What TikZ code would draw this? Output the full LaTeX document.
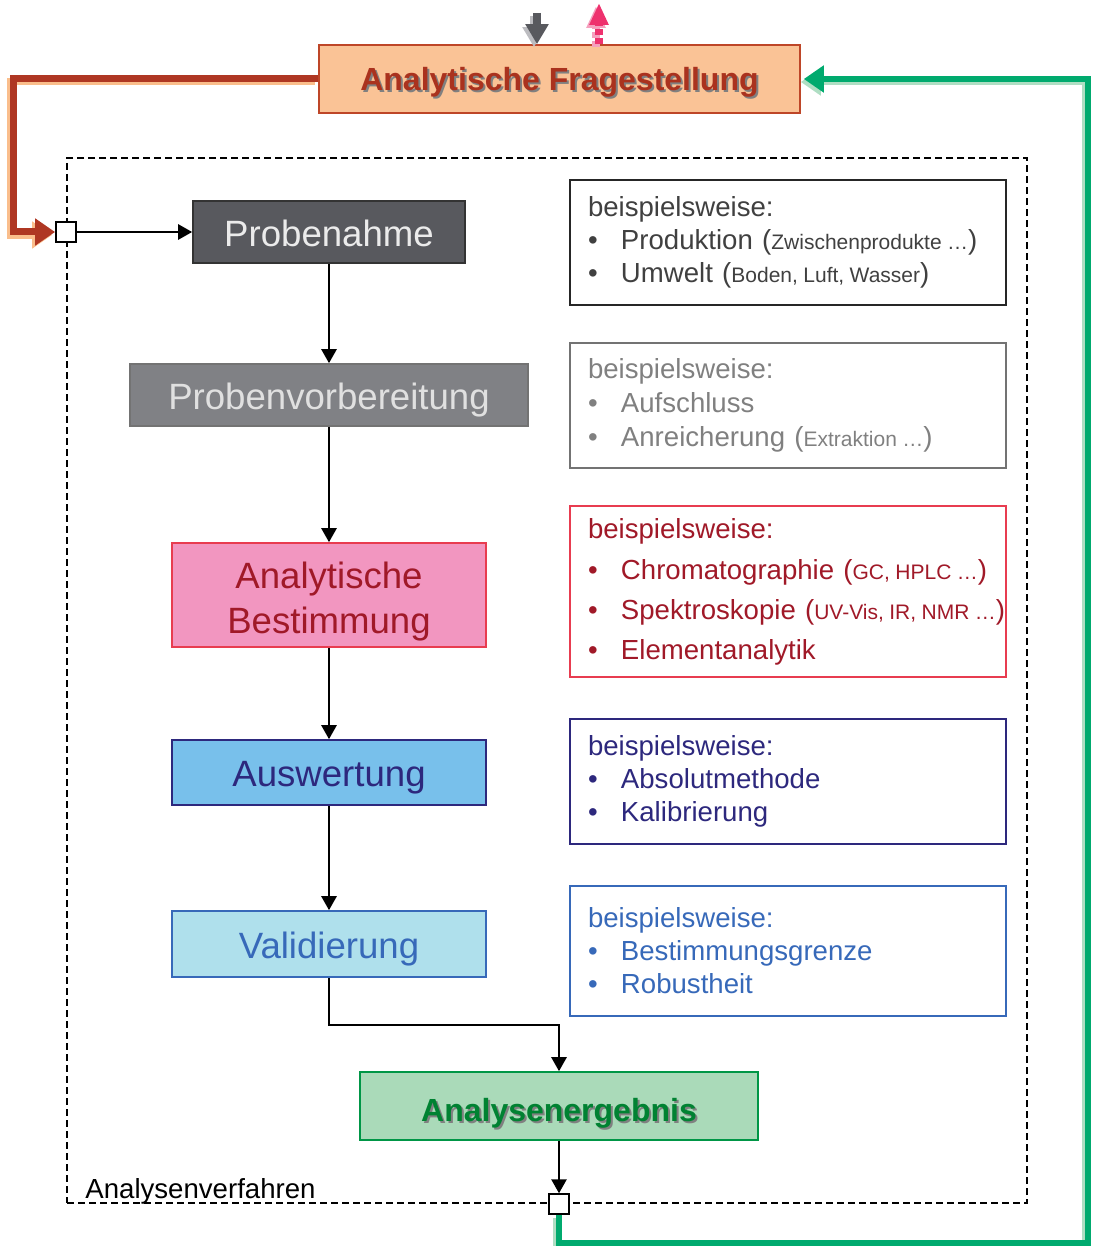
\documentclass[tikz,border=0pt]{standalone}
\usepackage{fontspec}
\setmainfont{Liberation Sans}
\setsansfont{Liberation Sans}
\usepackage{xcolor}
\usetikzlibrary{arrows.meta,positioning}
\definecolor{frfill}{RGB}{250,195,150}
\definecolor{frrand}{RGB}{190,70,40}
\definecolor{frtext}{RGB}{170,50,30}
\definecolor{rotlinie}{RGB}{175,55,35}
\definecolor{pfirsich}{RGB}{250,190,140}
\definecolor{gruenlinie}{RGB}{0,170,110}
\definecolor{gruenhell}{RGB}{175,222,195}
\definecolor{grdunkel}{RGB}{88,89,94}
\definecolor{grmittel}{RGB}{128,129,133}
\definecolor{grhell}{RGB}{188,188,192}
\definecolor{rosa}{RGB}{238,50,110}
\definecolor{rosahell}{RGB}{245,160,190}
\definecolor{bestfill}{RGB}{242,150,192}
\definecolor{bestrand}{RGB}{232,60,80}
\definecolor{besttext}{RGB}{160,25,40}
\definecolor{auswfill}{RGB}{120,192,235}
\definecolor{auswtext}{RGB}{45,40,125}
\definecolor{valfill}{RGB}{175,224,236}
\definecolor{valtext}{RGB}{55,105,185}
\definecolor{ergfill}{RGB}{170,218,185}
\definecolor{ergrand}{RGB}{0,150,70}
\definecolor{ergtext}{RGB}{0,130,50}
\newcommand{\schatten}[2]{\leavevmode\rlap{\hspace{1pt}\raisebox{-1pt}{\color{#1}#2}}#2}
\newcommand{\punkt}[1]{\makebox[16.5pt][l]{\textbullet}\mbox{#1}}
\newcommand{\klein}[1]{{\fontsize{10.5}{12}\selectfont\spaceskip=0.26em\relax #1}}
\begin{document}
\begin{tikzpicture}[x=0.5pt, y=-0.5pt,
    haupt/.style={rectangle, draw, line width=0.8pt, inner sep=0pt, align=center,
      font=\fontsize{18.3}{22.5}\selectfont},
    zeile/.style={text height=14.1pt, text depth=0pt},
    fett/.style={font=\fontsize{16}{19}\selectfont\bfseries, text depth=0pt},
    info/.style={rectangle, draw, line width=0.8pt, minimum width=218pt, inner xsep=9pt,
      text width=200pt, align=left, font=\fontsize{13.8}{16.5}\selectfont},
    knoten/.style={rectangle, draw, fill=white, line width=0.8pt, minimum size=10pt, inner sep=0pt},
    rahmen/.style={rectangle, draw, dashed, dash pattern=on 3.5pt off 2pt, line width=1.1pt,
      inner sep=0pt, minimum width=480pt, minimum height=522.5pt},
    pfeil/.style={line width=1.3pt, -{Triangle[length=7pt,width=7.5pt]}},
    dick/.style={line width=3.5pt, line join=miter, -{Triangle[length=10pt,width=13pt]}},
    schatten/.style={transform canvas={xshift=-1.5pt,yshift=-1.5pt}}
  ]
    \useasboundingbox (0,0) rectangle (1095,1246);

    % Rahmen Analysenverfahren
    \node[rahmen] (verfahren) at (547,680.5) {};
    \node[anchor=base west, inner sep=0pt, font=\fontsize{13.8}{16}\selectfont] (verflabel) at (85,1198) {Analysenverfahren};

    % Fragestellung
    \node[haupt, fett, text height=11.5pt, fill=frfill, draw=frrand, text=frtext, minimum width=240.5pt,
      minimum height=34pt] (frage) at (559.5,79) {\schatten{gray}{Analytische Fragestellung}};

    % Schritte
    \node[haupt, zeile, fill=grdunkel, draw=black!80, text=white!92!black, minimum width=136pt, minimum height=31pt] (probe) at (329,232) {Probenahme};
    \node[haupt, zeile, fill=grmittel, draw=black!55, text=white!88!black, minimum width=199pt, minimum height=31pt] (vorb) at (329,395) {Probenvorbereitung};
    \node[haupt, text height=38.1pt, text depth=0pt, fill=bestfill, draw=bestrand, text=besttext, minimum width=157pt, minimum height=52pt] (best) at (329,595) {Analytische\\Bestimmung};
    \node[haupt, zeile, fill=auswfill, draw=auswtext, text=auswtext, minimum width=157pt, minimum height=32.5pt] (ausw) at (329,772.5) {Auswertung};
    \node[haupt, zeile, fill=valfill, draw=valtext, text=valtext, minimum width=157pt, minimum height=33pt] (valid) at (329,944) {Validierung};
    \node[haupt, fett, text height=15.5pt, fill=ergfill, draw=ergrand, text=ergtext, minimum width=199pt,
      minimum height=34pt] (ergeb) at (559,1106) {\schatten{gray}{Analysenergebnis}};

    % Beispiele
    \node[info, draw=black!85, text=black!75, minimum height=62.5pt] (bsp1) at (788,242.5) {beispielsweise:\\
      \punkt{Produktion (\klein{Zwischenprodukte …})}\\
      \punkt{Umwelt (\klein{Boden, Luft, Wasser})}};
    \node[info, draw=black!55, text=black!50, minimum height=62.5pt] (bsp2) at (788,405.5) {beispielsweise:\\[0.5pt]
      \punkt{Aufschluss}\\[0.5pt]
      \punkt{Anreicherung (\klein{Extraktion …})}};
    \node[info, draw=bestrand, text=besttext, minimum height=85.5pt] (bsp3) at (788,591.5) {beispielsweise:\\[4pt]
      \punkt{Chromatographie (\klein{GC, HPLC …})}\\[3.5pt]
      \punkt{Spektroskopie (\klein{UV-Vis, IR, NMR …})}\\[3.5pt]
      \punkt{Elementanalytik}};
    \node[info, draw=auswtext, text=auswtext, minimum height=62.5pt] (bsp4) at (788,781.5) {beispielsweise:\\
      \punkt{Absolutmethode}\\
      \punkt{Kalibrierung}};
    \node[info, draw=valtext, text=valtext, minimum height=65pt] (bsp5) at (788,951) {beispielsweise:\\
      \punkt{Bestimmungsgrenze}\\
      \punkt{Robustheit}};

    % Ein- und Ausgang
    \node[knoten] (ein) at (verfahren.west |- probe) {};
    \node[knoten] (aus) at (verfahren.south -| ergeb) {};

    % Verbindungen
    \draw[pfeil] (ein) -- (probe);
    \draw[pfeil] (probe) -- (vorb);
    \draw[pfeil] (vorb) -- (best);
    \draw[pfeil] (best) -- (ausw);
    \draw[pfeil] (ausw) -- (valid);
    \draw[pfeil] (valid.south) -- ++(0,47) -| (ergeb.north);
    \draw[pfeil] (ergeb) -- (aus);

    % Rueckkopplung links (rot)
    \coordinate (links) at (13,232);
    \draw[dick, pfirsich, schatten] (frage.west) -| (links) -- (ein.west);
    \draw[dick, rotlinie] (frage.west) -| (links) -- (ein.west);

    % Rueckkopplung rechts (gruen)
    \coordinate (unten) at (1088,1243);
    \draw[dick, line width=3.25pt, gruenhell, schatten, shorten >=1.5pt] (aus.south) |- (unten) |- (frage.east);
    \draw[dick, line width=3.25pt, gruenlinie, shorten >=1.5pt] (aus.south) |- (unten) |- (frage.east);

    % Pfeile oben
    \coordinate (zu) at (537,13);
    \coordinate (weg) at (599,3);
    \draw[dick, line width=4pt, grhell, schatten, -{Triangle[length=10pt,width=11pt]}] (zu) -- (zu |- frage.north);
    \draw[dick, line width=4pt, grdunkel, -{Triangle[length=10pt,width=11pt]}] (zu) -- (zu |- frage.north);
    \draw[dick, line width=4pt, rosahell, schatten, dash pattern=on 3pt off 1.5pt,
      -{Triangle[length=11pt,width=9pt]}] (weg |- frage.north) -- (weg);
    \draw[dick, line width=4pt, rosa, dash pattern=on 3pt off 1.5pt,
      -{Triangle[length=11pt,width=9pt]}] (weg |- frage.north) -- (weg);

  \end{tikzpicture}
\end{document}
